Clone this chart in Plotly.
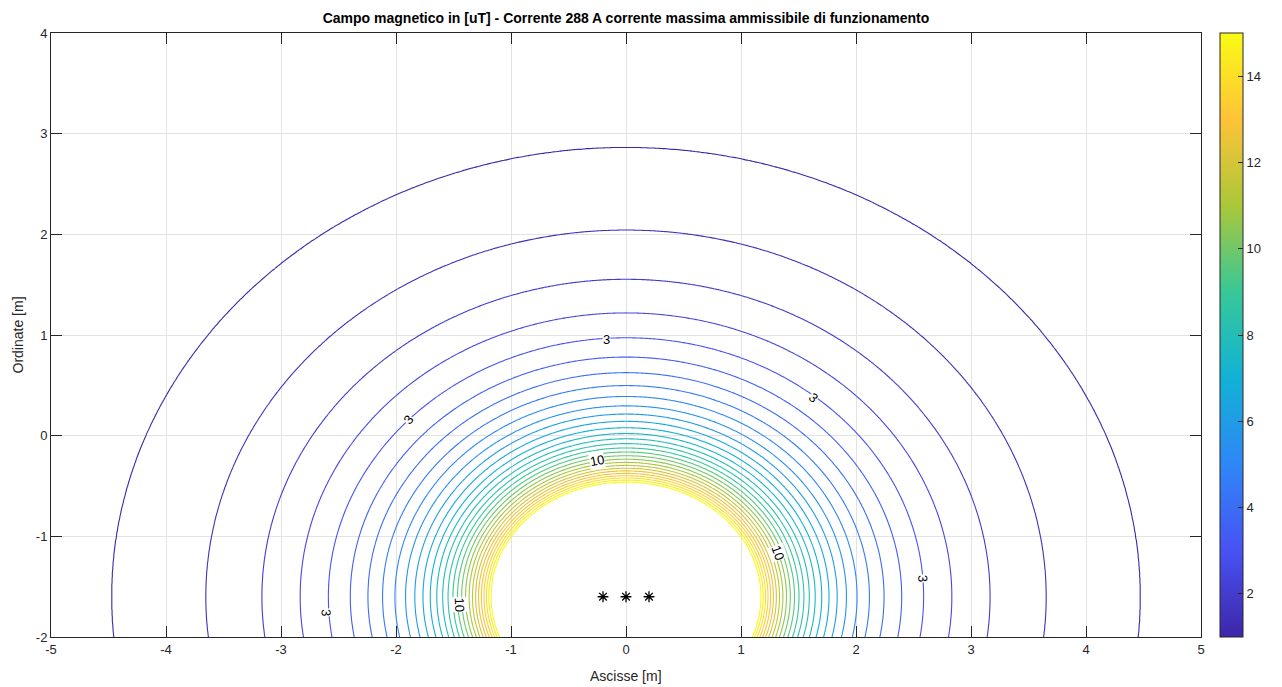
import numpy as np
import plotly.graph_objects as go

# ---- data ----
conductor_x = [-0.2, 0.0, 0.2]          # m
conductor_y = [-1.6, -1.6, -1.6]        # m
phase_deg = [0.0, -120.0, 120.0]        # three-phase system
current_A = 288.0                        # A (from title)
level_start, level_end, level_step = 1.0, 15.0, 0.5   # uT
x_ticks = [-5, -4, -3, -2, -1, 0, 1, 2, 3, 4, 5]
x_tick_labels = ["-5", "-4", "-3", "-2", "-1", "0", "1", "2", "3", "4", "5"]
y_ticks = [-2, -1, 0, 1, 2, 3, 4]
y_tick_labels = ["-2", "-1", "0", "1", "2", "3", "4"]
cbar_ticks = [2, 4, 6, 8, 10, 12, 14]

label_text = ["3", "3", "3", "3", "3", "10", "10", "10"]
label_x = [-0.17, 1.63, -1.89, -2.61, 2.58, -0.25, 1.32, -1.45]
label_y = [0.96, 0.38, 0.16, -1.76, -1.42, -0.25, -1.16, -1.68]
label_angle = [0, 43, -51, 88, 86, -11, 70, 88]

# ---- field of the three conductors (uT) ----
xs = np.linspace(-5, 5, 501)
ys = np.linspace(-2, 4, 301)
X, Y = np.meshgrid(xs, ys)
Bx = np.zeros_like(X, dtype=complex)
By = np.zeros_like(X, dtype=complex)
for cx, cy, ph in zip(conductor_x, conductor_y, phase_deg):
    Ik = current_A * np.exp(1j * np.deg2rad(ph))
    dx = X - cx
    dy = Y - cy
    r2 = dx ** 2 + dy ** 2
    r2 = np.where(r2 < 1e-6, 1e-6, r2)
    k = 0.2 * Ik  # mu0/(2pi) * 1e6 -> uT
    Bx += -k * dy / r2
    By += k * dx / r2
B = np.sqrt(np.abs(Bx) ** 2 + np.abs(By) ** 2)
B = np.minimum(B, 60.0)
B = np.round(B, 3)

parula = [
    [0.0, "rgb(62,38,168)"],
    [1 / 7, "rgb(72,82,244)"],
    [2 / 7, "rgb(46,135,247)"],
    [3 / 7, "rgb(18,177,214)"],
    [4 / 7, "rgb(55,200,151)"],
    [5 / 7, "rgb(171,199,57)"],
    [6 / 7, "rgb(254,195,56)"],
    [1.0, "rgb(249,251,21)"],
]

FONT = "Liberation Sans, Arial"

fig = go.Figure()
fig.add_trace(go.Contour(
    x=xs, y=ys, z=B,
    autocontour=False,
    contours=dict(start=level_start, end=level_end, size=level_step,
                  coloring="lines", showlabels=False),
    colorscale=parula, zmin=level_start, zmax=level_end,
    line=dict(width=1.1), showscale=False, hoverinfo="skip",
))

fig.add_trace(go.Scatter(
    x=conductor_x, y=conductor_y, mode="markers",
    marker=dict(symbol="asterisk-open", size=9, color="black",
                line=dict(color="black", width=1.3)),
    hoverinfo="skip", showlegend=False,
))

# colorbar carrier
fig.add_trace(go.Scatter(
    x=[conductor_x[1]], y=[conductor_y[1]], mode="markers",
    marker=dict(size=1, opacity=0, color=[level_start],
                colorscale=parula, cmin=level_start, cmax=level_end,
                showscale=True,
                colorbar=dict(
                    thickness=23, thicknessmode="pixels",
                    len=1, lenmode="fraction", y=0.5, yanchor="middle",
                    x=1 + 19 / 1150, xanchor="left", xpad=0, ypad=0,
                    outlinecolor="#262626", outlinewidth=1,
                    tickmode="array", tickvals=cbar_ticks,
                    ticks="inside", ticklen=5, tickcolor="#262626",
                    tickfont=dict(family=FONT, size=13, color="#262626"),
                )),
    hoverinfo="skip", showlegend=False,
))

annotations = []
for t, ax_, ay_, ang in zip(label_text, label_x, label_y, label_angle):
    annotations.append(dict(
        x=ax_, y=ay_, text=t, showarrow=False, textangle=ang,
        font=dict(family=FONT, size=13, color="black"),
        bgcolor="white", borderpad=0,
    ))

# x-axis title
annotations.append(dict(
    x=0.5, y=-(676 - 637) / 604, xref="paper", yref="paper",
    text="Ascisse [m]", showarrow=False, xanchor="center", yanchor="middle",
    font=dict(family=FONT, size=14, color="#262626"),
))

axis_common = dict(
    showgrid=True, gridcolor="#e3e3e3", gridwidth=1,
    zeroline=False, showline=True, linecolor="#262626", linewidth=1,
    mirror="ticks", ticks="inside", ticklen=11, tickcolor="#262626",
    tickfont=dict(family=FONT, size=13, color="#262626"),
    automargin=False,
)

fig.update_layout(
    width=1282, height=687,
    margin=dict(l=51, r=81, t=33, b=50),
    paper_bgcolor="white", plot_bgcolor="white",
    showlegend=False,
    title=dict(
        text="<b>Campo magnetico in [uT] - Corrente 288 A corrente massima ammissibile di funzionamento</b>",
        x=(51 + 575) / 1282, xanchor="center", xref="container",
        y=1 - 18 / 687, yanchor="middle", yref="container",
        font=dict(family=FONT, size=14, color="black"),
    ),
    xaxis=dict(range=[-5, 5], tickmode="array", tickvals=x_ticks, ticktext=x_tick_labels,
               **axis_common),
    yaxis=dict(range=[-2, 4], tickmode="array", tickvals=y_ticks, ticktext=y_tick_labels,
               title=dict(text="Ordinate [m]", standoff=8,
                          font=dict(family=FONT, size=14, color="#262626")),
               **axis_common),
    annotations=annotations,
)

fig.write_html("out.html")
